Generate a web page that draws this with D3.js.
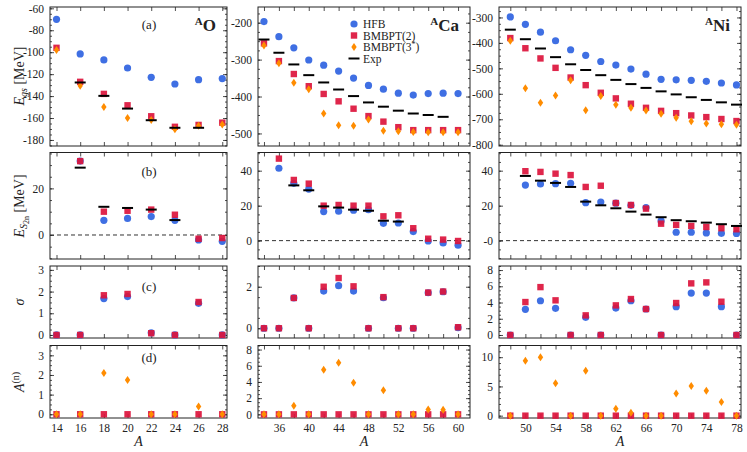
<!DOCTYPE html>
<html>
<head>
<meta charset="utf-8">
<script src="https://cdn.jsdelivr.net/npm/d3@7"></script>
<style>
  body { margin: 0; background: #fff; }
  text { font-family: "Liberation Serif", "DejaVu Serif", serif; fill: #222; }
</style>
</head>
<body>
<div class="canvas"></div>
<script>
// mass numbers
const aO = [14, 16, 18, 20, 22, 24, 26, 28];
const aCa = [34, 36, 38, 40, 42, 44, 46, 48, 50, 52, 54, 56, 58, 60];
const aNi = [48, 50, 52, 54, 56, 58, 60, 62, 64, 66, 68, 70, 72, 74, 76, 78];

// ground-state energies [MeV]
const egsHfbO = [-70, -101.6, -107, -114.4, -122.9, -129, -125, -124];
const egsBm2O = [-96, -127, -138, -148.4, -158.4, -168, -166.3, -164.2];
const egsBm3O = [-98, -130.5, -150, -160, -161.8, -170.3, -167, -166];
const egsExpO = [null, -127.6, -139.8, -151.4, -162.0, -168.9, -168.9, null];

const egsHfbCa = [-197, -238, -268, -301, -315, -331, -350, -370, -380, -391, -396, -392, -391, -392];
const egsBm2Ca = [-256, -304, -339, -372, -393, -413, -433, -453, -468, -483, -491, -491, -491, -491];
const egsBm3Ca = [-262, -310, -363, -380, -446, -478, -479, -462, -493, -494, -496, -497, -497, -497];
const egsExpCa = [-245.6, -281.4, -313.1, -342.1, -361.9, -381.0, -398.8, -416.0, -427.5, -438.3, -446.0, -450, -455, null];

const egsHfbNi = [-298, -327, -358, -391.5, -427, -449, -473, -487, -503, -523, -543, -545, -547, -551, -557.5, -565];
const egsBm2Ni = [-381, -421, -461, -498, -536, -566, -596, -618, -639, -655, -667, -676, -685, -691.5, -699, -707];
const egsBm3Ni = [-391.5, -578, -635, -607, -547, -664.5, -609, -642.5, -655, -666, -678, -694, -708, -717, -720, -722];
const egsExpNi = [-348, -385.5, -422, -456, -484, -506.5, -526.8, -545.3, -561.8, -576.8, -590.4, -602.3, -613.5, -624, -633.5, -642.5];

// two-neutron separation energies [MeV]
const s2nHfbO = [null, 31.7, 6.3, 7.1, 7.9, 6.3, -2.1, -2.7];
const s2nBm2O = [null, 31.7, 10, 10.4, 10.9, 8.7, -1.6, -1.3];
const s2nExpO = [null, 28.9, 12.1, 11.6, 10.9, 6.4, null, null];

const s2nHfbCa = [null, 41.4, 32.8, 29.5, 16.6, 16.8, 17.4, 17.7, 9.9, 10.1, 5.2, -0.2, -1.3, -2.6];
const s2nBm2Ca = [null, 46.9, 34.7, 32.6, 20, 20.4, 20, 20, 13.9, 14.5, 7.1, 1.1, 0.6, -0.2];
const s2nExpCa = [null, null, 31.6, 28.8, 19.6, 18.9, 17.7, 17.1, 11.4, 10.9, null, null, null, null];

const s2nHfbNi = [null, 31.8, 32.4, 32.6, 32.8, 21.7, 22.1, 21.4, 20.2, 18.9, 11.3, 4.8, 4.8, 4.4, 4.2, 4.1];
const s2nBm2Ni = [null, 39.7, 39.3, 38.3, 37.5, 30.7, 31.4, 21.5, 20.4, 18.3, 9.7, 9.0, 8.4, 7.8, 7.1, 6.5];
const s2nExpNi = [null, 37, 34.3, 33, 30.7, 22.3, 20.2, 18.5, 16.6, 14.9, 13.4, 11.7, 11.1, 10.3, 9.4, 8.4];

// sigma
const sigHfbO = [0, 0, 1.68, 1.77, 0.1, 0, 1.46, 0];
const sigBm2O = [0, 0, 1.83, 1.89, 0.08, 0, 1.52, 0];
const sigHfbCa = [0, 0, 1.46, 0, 1.79, 2.05, 1.79, 0, 1.47, 0, 0, 1.71, 1.76, 0.03];
const sigBm2Ca = [0, 0, 1.46, 0, 2.0, 2.42, 2.02, 0, 1.5, 0, 0, 1.72, 1.77, 0.05];
const sigHfbNi = [0, 3.16, 4.22, 3.28, 0, 2.18, 0, 3.32, 4.22, 3.2, 0, 3.49, 5.17, 5.17, 3.49, 0];
const sigBm2Ni = [0, 4.06, 5.9, 4.27, 0, 2.42, 0, 3.65, 4.43, 3.2, 0, 3.94, 6.36, 6.48, 4.1, 0];

// A^(n)
const anBm2O = [0, 0, 0, 0, 0, 0, 0, 0];
const anBm3O = [0, 0, 2.1, 1.75, 0, 0, 0.4, 0];
const anBm2Ca = [0, 0, 0, 0, 0, 0, 0, 0, 0, 0, 0, 0, 0, 0];
const anBm3Ca = [0, 0, 1.05, 0, 5.5, 6.37, 3.9, 0, 2.98, 0, 0, 0.6, 0.57, 0];
const anBm2Ni = [0, 0, 0, 0, 0, 0, 0, 0, 0, 0, 0, 0, 0, 0, 0, 0];
const anBm3Ni = [0, 9.4, 10.0, 5.54, 0, 7.7, 0, 1.2, 0.5, 0, 0, 3.8, 5.08, 4.24, 2.32, 0];

// axis ticks
const xTicksO = [14, 16, 18, 20, 22, 24, 26, 28];
const xLabelsO = [14, 16, 18, 20, 22, 24, 26, 28];
const xTicksCa = [34, 36, 38, 40, 42, 44, 46, 48, 50, 52, 54, 56, 58, 60];
const xLabelsCa = [36, 40, 44, 48, 52, 56, 60];
const xTicksNi = [48, 50, 52, 54, 56, 58, 60, 62, 64, 66, 68, 70, 72, 74, 76, 78];
const xLabelsNi = [50, 54, 58, 62, 66, 70, 74, 78];

const colors = { hfb: "#3f6fe3", bm2: "#dc143c", bm3: "#ff8c00", exp: "#000" };

const svg = d3.select(".canvas").append("svg")
  .attr("width", 747).attr("height", 452);

// layout
const cols = [{ x0: 50, x1: 227 }, { x0: 258, x1: 470 }, { x0: 499, x1: 741 }];
const rows = [{ y0: 7, y1: 146 }, { y0: 152.5, y1: 259 }, { y0: 266, y1: 338 }, { y0: 345.5, y1: 418 }];

const columns = [
  { a: aO, xDom: [13.45, 28.4], xTicks: xTicksO, xLabels: xLabelsO, name: "O",
    panels: [
      { dom: [-185.5, -58.8], major: [-180, -160, -140, -120, -100, -80, -60], minor: 5,
        series: [["hfb", egsHfbO], ["bm2", egsBm2O], ["bm3", egsBm3O], ["exp", egsExpO]] },
      { dom: [-10.3, 35.4], major: [0, 20], minor: 5, zero: true,
        series: [["hfb", s2nHfbO], ["bm2", s2nBm2O], ["exp", s2nExpO]] },
      { dom: [-0.14, 3.18], major: [0, 1, 2, 3], minor: 0.25,
        series: [["hfb", sigHfbO], ["bm2", sigBm2O]] },
      { dom: [-0.19, 3.5], major: [0, 1, 2, 3], minor: 0.25,
        series: [["bm2", anBm2O], ["bm3", anBm3O]] }
    ] },
  { a: aCa, xDom: [33.2, 61.6], xTicks: xTicksCa, xLabels: xLabelsCa, name: "Ca",
    panels: [
      { dom: [-534, -157.5], major: [-500, -400, -300, -200], minor: 25,
        series: [["hfb", egsHfbCa], ["bm2", egsBm2Ca], ["bm3", egsBm3Ca], ["exp", egsExpCa]] },
      { dom: [-10.5, 50.4], major: [0, 20, 40], minor: 5, zero: true,
        series: [["hfb", s2nHfbCa], ["bm2", s2nBm2Ca], ["exp", s2nExpCa]] },
      { dom: [-0.47, 3.0], major: [0, 2], minor: 0.5,
        series: [["hfb", sigHfbCa], ["bm2", sigBm2Ca]] },
      { dom: [-0.45, 8.5], major: [0, 2, 4, 6, 8], minor: 0.5,
        series: [["bm2", anBm2Ca], ["bm3", anBm3Ca]] }
    ] },
  { a: aNi, xDom: [46.5, 78.6], xTicks: xTicksNi, xLabels: xLabelsNi, name: "Ni",
    panels: [
      { dom: [-805, -259], major: [-800, -700, -600, -500, -400, -300], minor: 25,
        series: [["hfb", egsHfbNi], ["bm2", egsBm2Ni], ["bm3", egsBm3Ni], ["exp", egsExpNi]] },
      { dom: [-10.5, 50.4], major: [0, 20, 40], minor: 5, zero: true, negZero: true,
        series: [["hfb", s2nHfbNi], ["bm2", s2nBm2Ni], ["exp", s2nExpNi]] },
      { dom: [-0.37, 8.5], major: [0, 2, 4, 6, 8], minor: 0.5,
        series: [["hfb", sigHfbNi], ["bm2", sigBm2Ni]] },
      { dom: [-0.4, 12], major: [0, 5, 10], minor: 1,
        series: [["bm2", anBm2Ni], ["bm3", anBm3Ni]] }
    ] }
];

const minorTicks = (dom, step) => {
  const out = [];
  for (let v = Math.ceil(dom[0] / step) * step; v <= dom[1] + 1e-9; v += step) out.push(+v.toFixed(4));
  return out;
};

const drawMarker = (g, kind, x, y) => {
  if (kind === "hfb") {
    g.append("circle").attr("cx", x).attr("cy", y).attr("r", 3.6).attr("fill", colors.hfb);
  } else if (kind === "bm2") {
    g.append("rect").attr("x", x - 3.2).attr("y", y - 3.2).attr("width", 6.4).attr("height", 6.4)
      .attr("fill", colors.bm2).attr("fill-opacity", 0.92);
  } else if (kind === "bm3") {
    g.append("path").attr("d", `M${x},${y - 4}L${x + 2.7},${y}L${x},${y + 4}L${x - 2.7},${y}Z`)
      .attr("fill", colors.bm3);
  } else {
    g.append("line").attr("x1", x - 5.5).attr("x2", x + 5.5).attr("y1", y).attr("y2", y)
      .attr("stroke", colors.exp).attr("stroke-width", 2);
  }
};

columns.forEach((col, ci) => {
  const c = cols[ci];
  const xScale = d3.scaleLinear().domain(col.xDom).range([c.x0, c.x1]);
  col.panels.forEach((p, ri) => {
    const r = rows[ri];
    const yScale = d3.scaleLinear().domain(p.dom).range([r.y1, r.y0]);
    const g = svg.append("g");
    const fmt = d => (p.negZero && d === 0) ? "-0" : String(d);

    // y axes, ticks pointing inward on both sides
    g.append("g").attr("transform", `translate(${c.x0},0)`)
      .call(d3.axisLeft(yScale).tickValues(p.major).tickSize(-4).tickPadding(6).tickFormat(fmt));
    g.append("g").attr("transform", `translate(${c.x0},0)`)
      .call(d3.axisLeft(yScale).tickValues(minorTicks(p.dom, p.minor)).tickSize(-2).tickFormat(""));
    g.append("g").attr("transform", `translate(${c.x1},0)`)
      .call(d3.axisRight(yScale).tickValues(p.major).tickSize(-4).tickFormat(""));
    g.append("g").attr("transform", `translate(${c.x1},0)`)
      .call(d3.axisRight(yScale).tickValues(minorTicks(p.dom, p.minor)).tickSize(-2).tickFormat(""));
    // x axes
    g.append("g").attr("transform", `translate(0,${r.y0})`)
      .call(d3.axisTop(xScale).tickValues(col.xTicks).tickSize(-4).tickFormat(""));
    g.append("g").attr("transform", `translate(0,${r.y1})`)
      .call(d3.axisBottom(xScale).tickValues(col.xTicks).tickSize(-4).tickPadding(6)
        .tickFormat(d => (ri === 3 && col.xLabels.includes(d)) ? String(d) : ""));
    g.selectAll(".domain").remove();
    g.selectAll(".tick line").attr("stroke", "#222").attr("stroke-width", 0.8);
    g.selectAll(".tick text").attr("font-size", 11.5).attr("fill", "#222")
      .style("font-family", "'Liberation Serif', serif");

    g.append("rect").attr("x", c.x0).attr("y", r.y0)
      .attr("width", c.x1 - c.x0).attr("height", r.y1 - r.y0)
      .attr("fill", "none").attr("stroke", "#222").attr("stroke-width", 1);

    if (p.zero) {
      g.append("line").attr("x1", c.x0).attr("x2", c.x1)
        .attr("y1", yScale(0)).attr("y2", yScale(0))
        .attr("stroke", "#333").attr("stroke-width", 1).attr("stroke-dasharray", "4,3");
    }

    const marks = g.append("g");
    p.series.forEach(([kind, vals]) => {
      vals.forEach((v, i) => {
        if (v === null) return;
        drawMarker(marks, kind, xScale(col.a[i]), yScale(v));
      });
    });
  });

  // nucleus label
  const nl = svg.append("text").attr("x", c.x1 - 11).attr("y", 31)
    .attr("text-anchor", "end").attr("font-weight", "bold").attr("font-size", 17);
  nl.append("tspan").text("A").attr("font-size", 11).attr("dy", -6);
  nl.append("tspan").text(col.name).attr("dy", 6);

  // x label
  svg.append("text").attr("x", (c.x0 + c.x1) / 2).attr("y", 446)
    .attr("text-anchor", "middle").attr("font-style", "italic").attr("font-size", 14).text("A");
});

// panel tags
const tags = ["(a)", "(b)", "(c)", "(d)"];
const tagY = [29, 176, 291, 362];
tags.forEach((t, i) => {
  svg.append("text").attr("x", 149).attr("y", tagY[i]).attr("text-anchor", "middle")
    .attr("font-size", 13).text(t);
});

// y labels
const yLab = (cy, build) => {
  const t = svg.append("text").attr("transform", `translate(24,${cy}) rotate(-90)`)
    .attr("text-anchor", "middle").attr("font-size", 14);
  build(t);
};
yLab(76, t => {
  t.append("tspan").text("E").attr("font-style", "italic");
  t.append("tspan").text("gs").attr("font-size", 10).attr("font-style", "italic").attr("dy", 3);
  t.append("tspan").text(" [MeV]").attr("dy", -3);
});
yLab(206, t => {
  t.append("tspan").text("E").attr("font-style", "italic");
  t.append("tspan").text("S").attr("font-size", 10).attr("font-style", "italic").attr("dy", 3);
  t.append("tspan").text("2n").attr("font-size", 8).attr("dy", 2);
  t.append("tspan").text(" [MeV]").attr("dy", -5);
});
yLab(302, t => { t.append("tspan").text("σ").attr("font-style", "italic"); });
yLab(382, t => {
  t.append("tspan").text("A").attr("font-style", "italic");
  t.append("tspan").text("(n)").attr("font-size", 10).attr("dy", -5);
});

// legend
const legendKeys = ["hfb", "bm2", "bm3", "exp"];
const legendNames = ["HFB", "BMBPT(2)", "BMBPT(3", "Exp"];
const legend = svg.append("g");
legendKeys.forEach((k, i) => {
  const y = 24 + i * 11.5;
  drawMarker(legend, k, 354, y);
  const t = legend.append("text").attr("x", 363).attr("y", y + 4).attr("font-size", 11.5).text(legendNames[i]);
  if (k === "bm3") {
    t.append("tspan").text("*").attr("font-size", 8).attr("dy", -4);
    t.append("tspan").text(")").attr("dy", 4);
  }
});
</script>
</body>
</html>
